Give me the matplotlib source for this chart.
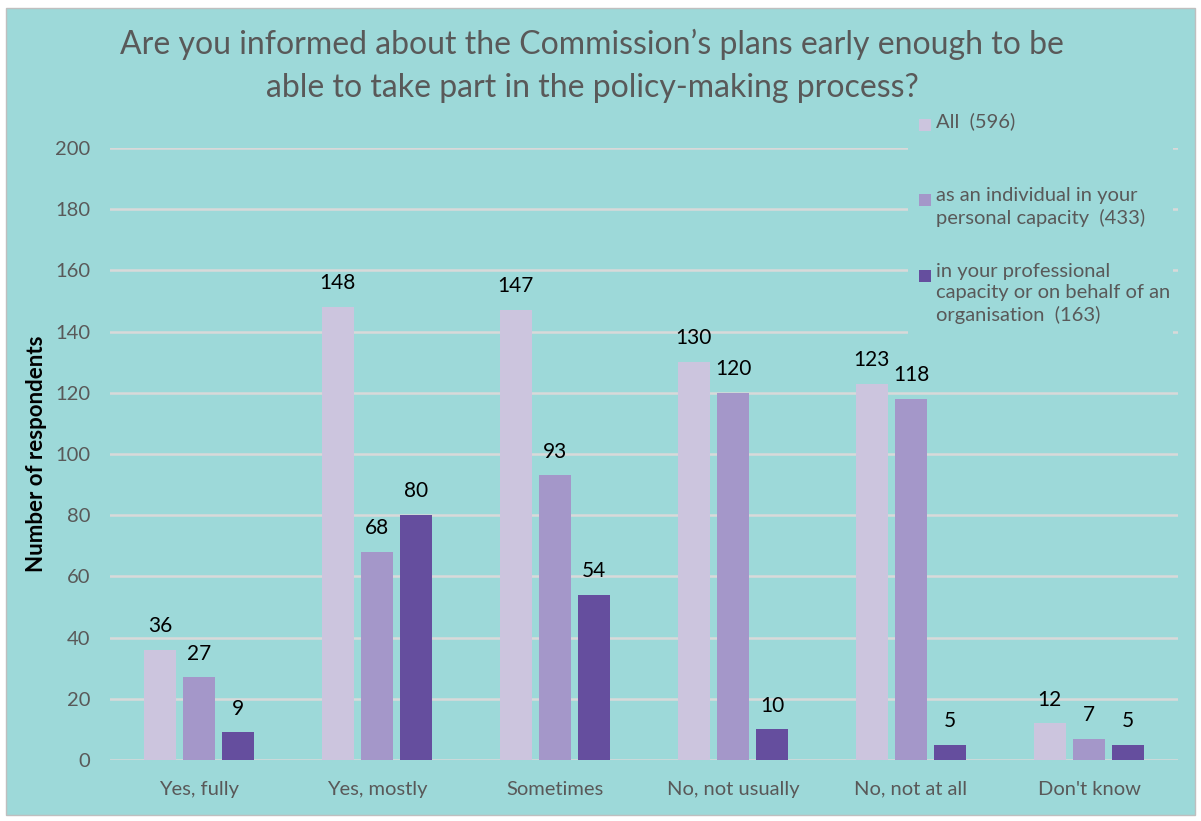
import matplotlib.pyplot as plt
import numpy as np
from matplotlib.patches import Rectangle

categories = ['Yes, fully', 'Yes, mostly', 'Sometimes', 'No, not usually',
              'No, not at all', "Don't know"]
all_resp = [36, 148, 147, 130, 123, 12]
individual = [27, 68, 93, 120, 118, 7]
professional = [9, 80, 54, 10, 5, 5]

series_labels = ['All  (596)',
                 'as an individual in your\npersonal capacity  (433)',
                 'in your professional\ncapacity or on behalf of an\norganisation  (163)']
colors = ['#CCC5DE', '#A497C9', '#654E9E']
BG = '#9DD9D9'
GREY = '#595959'

plt.rcParams['font.family'] = ['Lato', 'DejaVu Sans']

fig = plt.figure(figsize=(12.01, 8.21), dpi=100, facecolor='white')
fig.add_artist(Rectangle((6 / 1201, 6 / 821), 1189 / 1201, 807 / 821,
                         transform=fig.transFigure, facecolor=BG,
                         edgecolor='#BFBFBF', lw=1, zorder=-10))

ax = fig.add_axes([110 / 1201, 61 / 821, 1068 / 1201, 612 / 821])
ax.patch.set_alpha(0)

x = np.arange(len(categories))
width = 0.18
step = 0.22
for i, (vals, c) in enumerate(zip([all_resp, individual, professional], colors)):
    bars = ax.bar(x + (i - 1) * step, vals, width, color=c, zorder=3)
    for b, v in zip(bars, vals):
        ax.text(b.get_x() + b.get_width() / 2, v + 4.5, str(v), ha='center',
                va='bottom', fontsize=15, color='black', zorder=4)

ax.set_ylim(0, 200)
ax.set_xlim(-0.5, len(categories) - 0.5)
ax.set_yticks(range(0, 201, 20))
ax.grid(axis='y', color='#D9D9D9', lw=1.8, zorder=0)
ax.set_xticks(x)
ax.set_xticklabels(categories)
ax.tick_params(length=0, labelsize=14.5, colors=GREY)
ax.tick_params(axis='x', pad=15)
ax.tick_params(axis='y', pad=14)
for s in ax.spines.values():
    s.set_visible(False)
ax.set_ylabel('Number of respondents', fontsize=16, fontweight='bold',
              color='black', labelpad=6)

fig.text(592 / 1201, 1 - 66 / 821,
         'Are you informed about the Commission\u2019s plans early enough to be\n'
         'able to take part in the policy-making process?',
         ha='center', va='center', fontsize=23, color=GREY, linespacing=1.52)

# legend box covering the gridlines
fig.add_artist(Rectangle((908 / 1201, 1 - 365 / 821), 265 / 1201, 255 / 821,
                         transform=fig.transFigure, facecolor=BG,
                         edgecolor='none', zorder=2))
legend_y = [125, 200, 276]
for lab, c, yy in zip(series_labels, colors, legend_y):
    fig.add_artist(Rectangle((919 / 1201, 1 - (yy + 6) / 821), 12 / 1201, 12 / 821,
                             transform=fig.transFigure, facecolor=c,
                             edgecolor='none', zorder=3))
    fig.text(936 / 1201, 1 - (yy - 13) / 821, lab, ha='left', va='top',
             fontsize=14.5, color=GREY, linespacing=1.3, zorder=3)

fig.savefig('out.png', dpi=100, facecolor='white')
